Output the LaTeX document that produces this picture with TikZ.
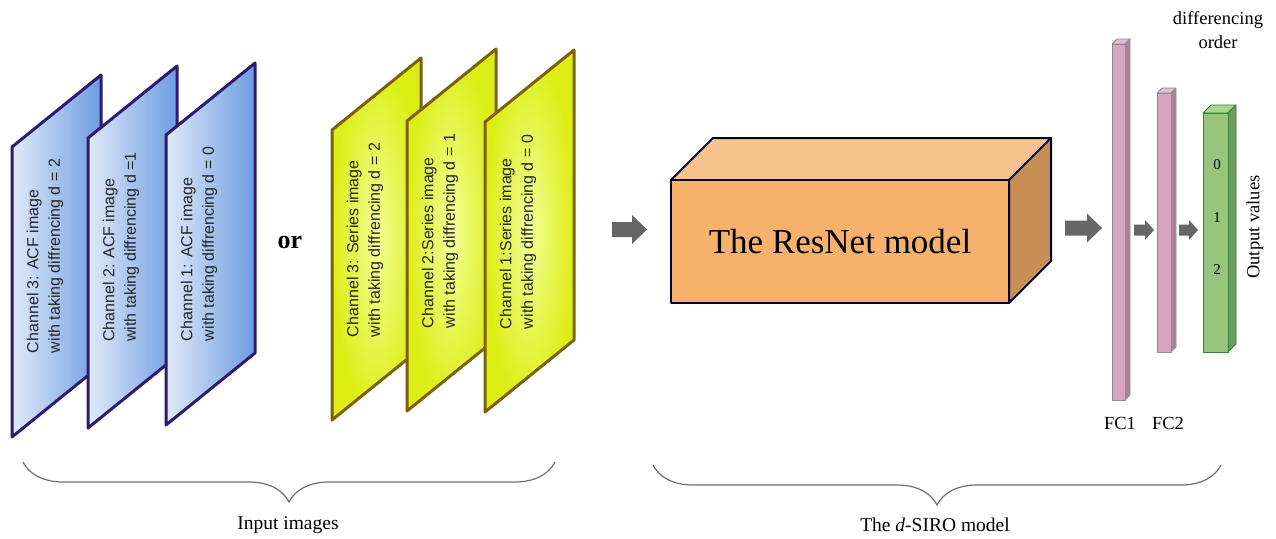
\documentclass[tikz,border=0pt]{standalone}
\usepackage{fontspec}
\setmainfont{Liberation Serif}
\newfontfamily\chanfont{Liberation Sans}
\usepackage{tikz}
\usetikzlibrary{calc}
\usetikzlibrary{decorations.pathreplacing}
\definecolor{acflight}{HTML}{E0EAF9}
\definecolor{acfdark}{HTML}{6C9CE2}
\definecolor{acfline}{HTML}{2E1B6E}
\definecolor{serlight}{HTML}{F4FF9A}
\definecolor{serdark}{HTML}{DCEE14}
\definecolor{serline}{HTML}{7E600A}
\definecolor{resfront}{HTML}{F6B26B}
\definecolor{restop}{HTML}{F8C48D}
\definecolor{resside}{HTML}{C78F56}
\definecolor{fcfront}{HTML}{D8A4C1}
\definecolor{fctop}{HTML}{E6BBD2}
\definecolor{fcside}{HTML}{A88598}
\definecolor{valfront}{HTML}{97C57D}
\definecolor{valtop}{HTML}{AAD590}
\definecolor{valside}{HTML}{6F9B5C}
\definecolor{arrowgray}{HTML}{666666}
\definecolor{bracegray}{HTML}{6E6E6E}

\tikzset{
  chantext/.style={rotate=90, align=left, inner sep=0pt, text=black!85,
    font=\chanfont\fontsize{16}{21.5}\selectfont},
  labeltext/.style={inner sep=0pt, font=\fontsize{19.5}{24}\selectfont},
  resedge/.style={draw=black!80!blue, line width=2pt, line join=round},
  fcedge/.style={draw=black!45, line width=0.8pt, line join=round},
  valedge/.style={draw=black!50!green!60!gray, line width=0.8pt, line join=round},
  bracket/.style={bracegray, line width=1.2pt, decorate,
    decoration={brace, amplitude=40pt, mirror}}
}

%% block arrow: x, y (middle), length, head width, shaft width, head length
\newcommand{\blockarrow}[6]{%
  \fill[arrowgray] (#1,#2-#5/2) -- (#1+#3-#6,#2-#5/2) -- (#1+#3-#6,#2-#4/2)
    -- (#1+#3,#2) -- (#1+#3-#6,#2+#4/2) -- (#1+#3-#6,#2+#5/2) -- (#1,#2+#5/2) -- cycle;}

%% 3d slab: front top-left, front bottom-right, depth, colour prefix
\newcommand{\slab}[6]{%
  \filldraw[#6edge, fill=#6top] (#1,#2) -- (#1+#5,#2-#5) -- (#3+#5,#2-#5) -- (#3,#2) -- cycle;
  \filldraw[#6edge, fill=#6side] (#3,#2) -- (#3+#5,#2-#5) -- (#3+#5,#4-#5) -- (#3,#4) -- cycle;
  \filldraw[#6edge, fill=#6front] (#1,#2) rectangle (#3,#4);}

\begin{document}
\begin{tikzpicture}[x=1pt,y=-1pt]
\useasboundingbox (0,0) rectangle (1276,538);

%% ACF channels, back to front
\foreach \x/\yb/\n/\txt in {12/437/3/{Channel 3:  ACF image\\with taking diffrencing d = 2},
                            88/428/2/{Channel 2:  ACF image\\with taking diffrencing d =1},
                            166/425/1/{Channel 1:  ACF image\\with taking diffrencing d = 0}}
{
  \shadedraw[left color=acflight, right color=acfdark, draw=acfline, line width=3pt, line join=round]
    (\x,\yb) -- ++(0,-290) -- ++(89,-72) -- ++(0,290) -- cycle;
  \node[chantext] (acf\n) at (\x+33,\yb-181) {\txt};
}

\node[font=\bfseries\fontsize{26}{30}\selectfont, inner sep=0pt] (or) at (290,242) {or};

%% series channels
\foreach \x/\yb/\n/\txt in {332/420/3/{Channel 3: Series image\\with taking diffrencing d = 2},
                            407/411/2/{Channel 2:Series image\\with taking diffrencing d = 1},
                            485/412/1/{Channel 1:Series image\\with taking diffrencing d = 0}}
{
  \shadedraw[inner color=serlight, outer color=serdark, draw=serline, line width=3pt, line join=round]
    (\x,\yb) -- ++(0,-290) -- ++(89,-72) -- ++(0,290) -- cycle;
  \node[chantext] (ser\n) at (\x+33,\yb-180) {\txt};
}

\blockarrow{612}{229.5}{35}{29}{15}{15}

%% the ResNet block
\slab{671}{180}{1009}{303}{42}{res}
\node[font=\fontsize{35}{40}\selectfont, inner sep=0pt] (resnet) at (840,242) {The ResNet model};

\blockarrow{1065}{228}{37}{29}{15}{15}

%% fully connected layers and output
\slab{1112}{44}{1125}{400}{5}{fc}
\blockarrow{1134}{230}{20}{20}{11}{9}
\slab{1157}{93}{1171}{352}{5}{fc}
\blockarrow{1179}{230}{19}{20}{11}{9}
\slab{1203}{113}{1228}{352}{8}{val}

\foreach \v/\yy in {0/165, 1/218, 2/270}
  \node[font=\fontsize{15}{18}\selectfont] (val\v) at (1217,\yy) {\v};
\node[labeltext, rotate=90, font=\fontsize{18.5}{22}\selectfont] (outval) at (1255,227) {Output values};
\node[labeltext, align=center, font=\fontsize{18.5}{24}\selectfont] (order) at (1218,30) {differencing\\order};
\node[labeltext, font=\fontsize{18.5}{22}\selectfont] (fc1) at (1120,423) {FC1};
\node[labeltext, font=\fontsize{18.5}{22}\selectfont] (fc2) at (1168,423) {FC2};

%% braces and captions
\draw[bracket] (23,462) -- (555,462);
\draw[bracket] (653,465) -- (1221,465);
\node[labeltext] (inputs) at (288,525) {Input images};
\node[labeltext] (model) at (935,525) {The \textit{d}-SIRO model};
\end{tikzpicture}
\end{document}
